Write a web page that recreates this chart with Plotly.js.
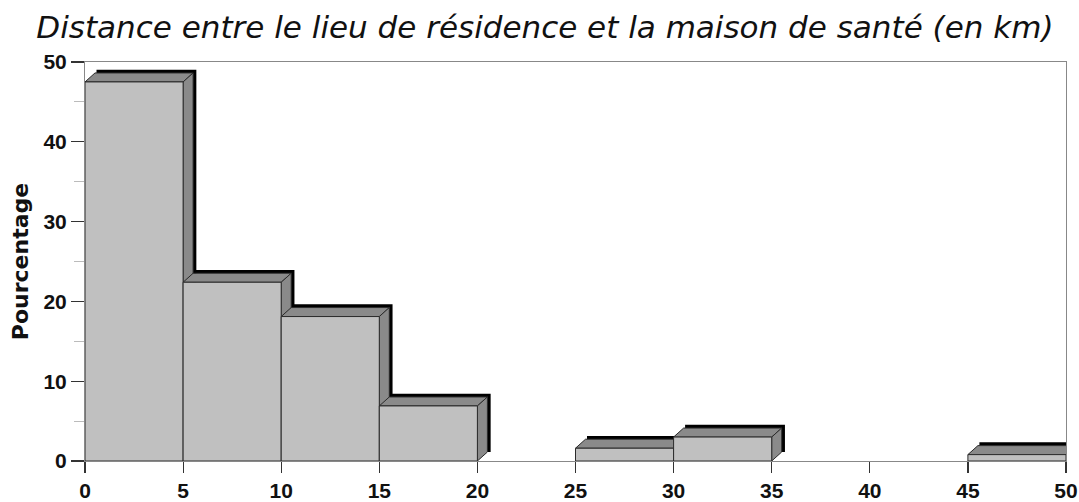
<!DOCTYPE html>
<html>
<head>
<meta charset="utf-8">
<script src="https://cdn.plot.ly/plotly-3.0.1.min.js"></script>
<style>html,body{margin:0;padding:0;background:#fff;}#chart{width:1079px;height:502px;}</style>
</head>
<body>
<div id="chart"></div>
<script>
// ---- data ----
const binStarts = [0, 5, 10, 15, 20, 25, 30, 35, 40, 45];
const binWidth = 5;
const percentages = [47.5, 22.4, 18.1, 6.9, 0, 1.6, 3.0, 0, 0, 0.8];
const xTickVals = [0, 5, 10, 15, 20, 25, 30, 35, 40, 45, 50];
const yTickVals = [0, 10, 20, 30, 40, 50];
const titleText = "Distance entre le lieu de résidence et la maison de santé (en km)";
const yTitle = "Pourcentage";

// ---- layout geometry ----
const W = 1079, H = 502;
const margin = {l: 85, r: 13, t: 62, b: 41, pad: 0};
const xRange = [0, 50], yRange = [0, 50];
const plotW = W - margin.l - margin.r, plotH = H - margin.t - margin.b;
const pxX = (xRange[1] - xRange[0]) / plotW; // data units per px
const pxY = (yRange[1] - yRange[0]) / plotH;
const dx = 10 * pxX, dy = 9 * pxY; // 3D depth offset

const FRONT = '#c0c0c0', FACE = '#8a8a8a', EDGE = '#2a2a2a';
const traces = [];
function poly(xs, ys, fill, lw) {
  traces.push({type: 'scatter', mode: 'lines', x: xs, y: ys, fill: 'toself',
    fillcolor: fill, line: {color: EDGE, width: lw}, hoverinfo: 'skip', showlegend: false});
}
binStarts.forEach((x0, i) => {
  const v = percentages[i];
  if (!v) return;
  const x1 = x0 + binWidth;
  // black back edge shadow
  traces.push({type: 'scatter', mode: 'lines',
    x: [x0 + dx + 1.5 * pxX, x1 + dx + 1.5 * pxX, x1 + dx + 1.5 * pxX],
    y: [v + dy + 1.5 * pxY, v + dy + 1.5 * pxY, dy],
    line: {color: '#000', width: 3.5}, hoverinfo: 'skip', showlegend: false});
  // top face
  poly([x0, x0 + dx, x1 + dx, x1, x0], [v, v + dy, v + dy, v, v], FACE, 1);
  // side face
  poly([x1, x1 + dx, x1 + dx, x1, x1], [v, v + dy, dy, 0, v], FACE, 1);
  // front face
  poly([x0, x0, x1, x1, x0], [0, v, v, 0, 0], FRONT, 1);
});

const tickFont = {family: 'Liberation Sans, Arial, sans-serif', size: 21, color: '#111', weight: 'bold'};
const layout = {
  width: W, height: H, margin: margin,
  paper_bgcolor: '#fff', plot_bgcolor: '#fff',
  showlegend: false,
  title: {text: titleText, xref: 'container', yref: 'container', x: 0.505, xanchor: 'center',
    y: 1 - 27 / H, yanchor: 'middle',
    font: {family: 'DejaVu Sans, sans-serif', size: 31, style: 'italic', color: '#111'}},
  xaxis: {range: xRange, tickvals: xTickVals, ticktext: xTickVals.map(String),
    ticks: 'outside', ticklen: 11, tickwidth: 1.2, tickcolor: '#333',
    showline: true, mirror: true, linecolor: '#888', linewidth: 1,
    showgrid: false, zeroline: false, tickfont: tickFont, fixedrange: true},
  yaxis: {range: yRange, tickvals: yTickVals, ticktext: yTickVals.map(String),
    ticks: 'outside', ticklen: 13, tickwidth: 1.2, tickcolor: '#333',
    minor: {dtick: 5, tick0: 0, ticks: 'outside', ticklen: 10, tickcolor: '#bbb', tickwidth: 1},
    showline: true, mirror: true, linecolor: '#888', linewidth: 1,
    showgrid: false, zeroline: false, tickfont: tickFont, fixedrange: true,
    title: {text: yTitle, standoff: 8,
      font: {family: 'DejaVu Sans, sans-serif', size: 22, color: '#111', weight: 'bold'}}}
};
Plotly.newPlot('chart', traces, layout, {displayModeBar: false, staticPlot: true});
</script>
</body>
</html>
